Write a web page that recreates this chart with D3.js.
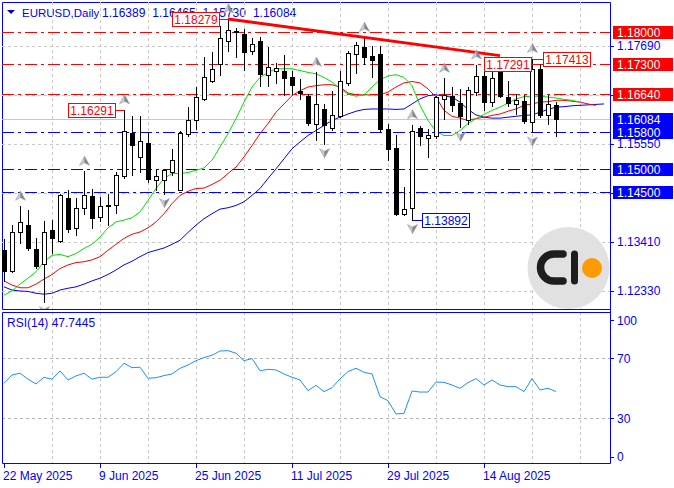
<!DOCTYPE html>
<html>
<head>
<meta charset="utf-8">
<script src="https://cdn.jsdelivr.net/npm/d3@7"></script>
<style>
  body { margin: 0; background: #fff; }
  svg { display: block; font-family: "Liberation Sans", Arial, sans-serif; }
</style>
</head>
<body>
<svg id="chart" width="674" height="488"></svg>
<script>
// daily EURUSD bars, 22 May 2025 .. 27 Aug 2025
var symbol = "EURUSD,Daily";
var lastQuote = ["1.16389", "1.16465", "1.15730", "1.16084"];
var dateLabels = ["22 May 2025", "9 Jun 2025", "25 Jun 2025", "11 Jul 2025", "29 Jul 2025", "14 Aug 2025"];

var open = [1.13224, 1.12773, 1.13623, 1.13783, 1.13238, 1.12911, 1.13674, 1.13420, 1.14372, 1.13718,
            1.14154, 1.14409, 1.13951, 1.14198, 1.14205, 1.14845, 1.15783, 1.15259, 1.15564, 1.14750,
            1.14765, 1.14932, 1.14547, 1.15768, 1.16059, 1.16531, 1.16931, 1.17295, 1.17804, 1.18007,
            1.17949, 1.17571, 1.17804, 1.17055, 1.17135, 1.17149, 1.17004, 1.16699, 1.16604, 1.15972,
            1.16313, 1.15899, 1.16153, 1.16880, 1.17513, 1.17673, 1.17476, 1.17513, 1.15877, 1.15463,
            1.14023, 1.14154, 1.15892, 1.15681, 1.15710, 1.16531, 1.16590, 1.16444, 1.16059, 1.16677,
            1.17040, 1.16459, 1.17128, 1.16568, 1.16422, 1.16495, 1.16022, 1.17186, 1.16168, 1.16389];
var high = [1.13463, 1.13769, 1.14183, 1.14096, 1.13478, 1.13856, 1.13892, 1.14459, 1.14547, 1.14365,
            1.14947, 1.14568, 1.14387, 1.14459, 1.14932, 1.16291, 1.16146, 1.16146, 1.15804, 1.15005,
            1.15005, 1.15426, 1.15819, 1.16364, 1.16786, 1.17440, 1.17549, 1.18131, 1.18279, 1.18073,
            1.18058, 1.17862, 1.17876, 1.17658, 1.17309, 1.17491, 1.17149, 1.16968, 1.16640, 1.17113,
            1.16408, 1.16713, 1.17149, 1.17586, 1.17767, 1.17876, 1.17680, 1.17695, 1.15986, 1.15732,
            1.14605, 1.15964, 1.15940, 1.15877, 1.16604, 1.16982, 1.16786, 1.16749, 1.16786, 1.17273,
            1.17237, 1.17180, 1.17150, 1.16931, 1.16640, 1.16619, 1.17413, 1.17291, 1.16619, 1.16465];
var low = [1.12547, 1.12751, 1.13369, 1.13224, 1.12824, 1.12097, 1.13151, 1.13405, 1.13623, 1.13551,
           1.14023, 1.13711, 1.13856, 1.13769, 1.14045, 1.14801, 1.14874, 1.14932, 1.14714, 1.14532,
           1.14459, 1.14859, 1.14532, 1.15710, 1.15863, 1.16510, 1.16895, 1.17055, 1.17586, 1.17440,
           1.17164, 1.17513, 1.16822, 1.16822, 1.16873, 1.16619, 1.16640, 1.16531, 1.15950, 1.15623,
           1.15550, 1.15841, 1.16132, 1.16837, 1.17098, 1.17295, 1.17004, 1.15819, 1.15186, 1.13987,
           1.14000, 1.13892, 1.15514, 1.15259, 1.15674, 1.16095, 1.16255, 1.15913, 1.15986, 1.16619,
           1.16277, 1.16386, 1.16568, 1.16386, 1.16204, 1.16008, 1.15804, 1.16132, 1.15986, 1.15730];
var close = [1.12773, 1.13623, 1.13841, 1.13274, 1.12882, 1.13623, 1.13478, 1.14438, 1.13696, 1.14154,
             1.14438, 1.13936, 1.14190, 1.14212, 1.14874, 1.15826, 1.15514, 1.15601, 1.14787, 1.14837,
             1.14968, 1.15201, 1.15783, 1.16073, 1.16582, 1.17018, 1.17186, 1.17862, 1.18044, 1.17993,
             1.17549, 1.17731, 1.17077, 1.17237, 1.17208, 1.16989, 1.16844, 1.16662, 1.16008, 1.16408,
             1.15950, 1.16168, 1.16917, 1.17535, 1.17709, 1.17440, 1.17382, 1.15863, 1.15441, 1.14009,
             1.14132, 1.15826, 1.15710, 1.15746, 1.16568, 1.16619, 1.16401, 1.16146, 1.16728, 1.17026,
             1.16459, 1.16989, 1.16590, 1.16444, 1.16510, 1.16037, 1.17186, 1.16182, 1.16408, 1.16084];

// alligator lines (they run a few bars past the last candle)
var lips = [1.1224, 1.1233, 1.1248, 1.1261, 1.1275, 1.1297, 1.1311, 1.1313, 1.1308, 1.1315,
            1.1326, 1.1335, 1.1351, 1.1371, 1.1384, 1.1388, 1.1393, 1.1406, 1.1431, 1.1457,
            1.1479, 1.1490, 1.1490, 1.1492, 1.1497, 1.1502, 1.1519, 1.1548, 1.1577, 1.1610,
            1.1646, 1.1679, 1.1700, 1.1711, 1.1719, 1.1719, 1.1719, 1.1715, 1.1711, 1.1708,
            1.1700, 1.1690, 1.1675, 1.1664, 1.1659, 1.1662, 1.1679, 1.1695, 1.1703, 1.1706,
            1.1700, 1.1682, 1.1639, 1.1606, 1.1582, 1.1573, 1.1573, 1.1584, 1.1599, 1.1610,
            1.1619, 1.1628, 1.1635, 1.1644, 1.1653, 1.1658, 1.1659, 1.1659, 1.1657, 1.1655,
            1.1652, 1.1650, 1.1646];
var teeth = [1.1255, 1.1246, 1.1240, 1.1240, 1.1248, 1.1259, 1.1269, 1.1282, 1.1290, 1.1295,
             1.1297, 1.1301, 1.1308, 1.1322, 1.1335, 1.1348, 1.1357, 1.1362, 1.1371, 1.1384,
             1.1402, 1.1424, 1.1442, 1.1451, 1.1457, 1.1458, 1.1466, 1.1475, 1.1490, 1.1504,
             1.1526, 1.1551, 1.1577, 1.1599, 1.1624, 1.1642, 1.1660, 1.1671, 1.1679, 1.1682,
             1.1684, 1.1684, 1.1679, 1.1666, 1.1662, 1.1662, 1.1662, 1.1662, 1.1668, 1.1679,
             1.1688, 1.1691, 1.1688, 1.1675, 1.1657, 1.1628, 1.1615, 1.1611, 1.1606, 1.1610,
             1.1613, 1.1617, 1.1620, 1.1626, 1.1631, 1.1639, 1.1642, 1.1646, 1.1647, 1.1650,
             1.1650, 1.1648, 1.1646, 1.1642, 1.1639];
var jaw = [1.1242, 1.1235, 1.1233, 1.1232, 1.1228, 1.1226, 1.1228, 1.1235, 1.1239, 1.1242,
           1.1248, 1.1255, 1.1261, 1.1269, 1.1279, 1.1290, 1.1298, 1.1308, 1.1317, 1.1322,
           1.1327, 1.1335, 1.1344, 1.1361, 1.1377, 1.1391, 1.1402, 1.1412, 1.1415, 1.1420,
           1.1428, 1.1442, 1.1457, 1.1479, 1.1500, 1.1522, 1.1544, 1.1559, 1.1573, 1.1584,
           1.1595, 1.1606, 1.1613, 1.1620, 1.1626, 1.1630, 1.1631, 1.1631, 1.1631, 1.1630,
           1.1631, 1.1642, 1.1653, 1.1660, 1.1662, 1.1659, 1.1657, 1.1646, 1.1630, 1.1618,
           1.1613, 1.1611, 1.1611, 1.1613, 1.1615, 1.1617, 1.1618, 1.1624, 1.1630, 1.1635,
           1.1636, 1.1638, 1.1639, 1.1640, 1.1641, 1.1642];

var rsi = [53.2, 58.8, 60.0, 56.0, 52.8, 57.3, 56.0, 61.5, 55.5, 58.2,
           60.0, 56.0, 57.3, 57.3, 61.0, 66.7, 63.7, 64.0, 56.6, 57.0,
           58.4, 59.5, 63.3, 65.5, 68.4, 70.5, 72.0, 74.9, 75.1, 73.4,
           68.4, 69.8, 61.7, 62.6, 62.2, 59.5, 57.3, 55.5, 48.3, 51.9,
           47.7, 50.3, 56.2, 61.1, 63.3, 60.6, 59.5, 44.3, 41.6, 32.7,
           33.1, 48.1, 47.4, 47.4, 54.1, 53.9, 52.1, 49.9, 53.7, 56.4,
           52.1, 55.5, 52.1, 51.0, 51.0, 47.7, 56.4, 48.8, 49.9, 47.7445];

var upFractals = [2, 10, 15, 28, 39, 45, 51, 55, 59, 66];
var downFractals = [5, 20, 40, 51, 57, 66];

var redLevels = [1.18, 1.173, 1.1664];
var blueLevels = [1.158, 1.15, 1.145];
var bid = 1.16084;
var priceTicks = [1.1769, 1.1661, 1.1555, 1.1447, 1.1341, 1.1233];
var rsiTicks = [100, 70, 30, 0];
var rsiLevels = [70, 30];

// swing labels: bar, price, colour, box side
var swingLabels = [
  { bar: 15, price: 1.16291, color: "#ff0000", side: -1 },
  { bar: 28, price: 1.18279, color: "#ff0000", side: -1 },
  { bar: 51, price: 1.13892, color: "#0000ff", side: 1 },
  { bar: 67, price: 1.17291, color: "#ff0000", side: -1 },
  { bar: 66, price: 1.17413, color: "#ff0000", side: 1 }
];
var trendBars = [28, 62];
var trendPrices = [1.18279, 1.17477];

var blue = "#0000ff";
var gridColor = "#c8c8c8";
var svg = d3.select("#chart");

var x = d3.scaleLinear().domain([0, 69]).range([4, 556]);
var y = d3.scaleLinear().domain([1.18, 1.158]).range([31.7, 132.3]);
var ry = d3.scaleLinear().domain([0, 100]).range([462.8, 313.5]);

function px(v) { return Math.round(v) + 0.5; }

var mainTop = 2, mainBottom = 309, rsiTop = 312, rsiBottom = 463, left = 2, right = 610;

var defs = svg.append("defs");
defs.append("clipPath").attr("id", "clip-main")
  .append("rect").attr("x", left).attr("y", mainTop).attr("width", right - left).attr("height", mainBottom - mainTop);
defs.append("clipPath").attr("id", "clip-rsi")
  .append("rect").attr("x", left).attr("y", rsiTop).attr("width", right - left).attr("height", rsiBottom - rsiTop);

var main = svg.append("g").attr("clip-path", "url(#clip-main)");
var sub = svg.append("g").attr("clip-path", "url(#clip-rsi)");

// vertical grid, every 6 bars
var gridBars = d3.range(6, 76, 6);
[[main, mainTop, mainBottom], [sub, rsiTop, rsiBottom]].forEach(function(p) {
  p[0].selectAll(".vgrid").data(gridBars).enter().append("line")
    .attr("x1", d => px(x(d))).attr("x2", d => px(x(d)))
    .attr("y1", p[1]).attr("y2", p[2])
    .attr("stroke", gridColor).attr("stroke-dasharray", "3,3");
});

main.selectAll(".hgrid").data(priceTicks).enter().append("line")
  .attr("x1", left).attr("x2", right)
  .attr("y1", d => px(y(d))).attr("y2", d => px(y(d)))
  .attr("stroke", gridColor).attr("stroke-dasharray", "3,3");

sub.selectAll(".rlevel").data(rsiLevels).enter().append("line")
  .attr("x1", left).attr("x2", right)
  .attr("y1", d => px(ry(d))).attr("y2", d => px(ry(d)))
  .attr("stroke", "#b4b4b4").attr("stroke-dasharray", "3,3");

// bid line
main.append("line")
  .attr("x1", left).attr("x2", right)
  .attr("y1", px(y(bid))).attr("y2", px(y(bid)))
  .attr("stroke", "#c8c8c8");

// horizontal levels
function drawLevels(levels, color) {
  main.selectAll(null).data(levels).enter().append("line")
    .attr("x1", left).attr("x2", right)
    .attr("y1", d => px(y(d))).attr("y2", d => px(y(d)))
    .attr("stroke", color).attr("stroke-dasharray", "12,4,3,4");
}
drawLevels(redLevels, "#ff0000");
drawLevels(blueLevels, blue);

// logo
var logo = main.append("g");
logo.append("circle").attr("cx", 568.5).attr("cy", 268).attr("r", 41).attr("fill", "#e1e1e1");
logo.append("path")
  .attr("d", "M563,254 H554 A13.5,13.5 0 0 0 554,281 H563")
  .attr("fill", "none").attr("stroke", "#1e1e1e").attr("stroke-width", 7.5).attr("stroke-linecap", "round");
logo.append("line").attr("x1", 574.5).attr("x2", 574.5).attr("y1", 254).attr("y2", 281)
  .attr("stroke", "#1e1e1e").attr("stroke-width", 7).attr("stroke-linecap", "round");
logo.append("circle").attr("cx", 592).attr("cy", 268).attr("r", 10).attr("fill", "#ff9a00");

// alligator
var line = d3.line().x((d, i) => x(i)).y(d => y(d));
[[jaw, blue], [teeth, "#ff0000"], [lips, "#00e000"]].forEach(function(s) {
  main.append("path").datum(s[0])
    .attr("d", line)
    .attr("fill", "none").attr("stroke", s[1]).attr("stroke-width", 1);
});

// candles
var bars = main.selectAll(".candle").data(d3.range(open.length)).enter().append("g").classed("candle", true);
bars.append("line")
  .attr("x1", i => px(x(i))).attr("x2", i => px(x(i)))
  .attr("y1", i => Math.round(y(high[i]))).attr("y2", i => Math.round(y(low[i])) + 1)
  .attr("stroke", "#000");
bars.append("rect")
  .attr("x", i => Math.round(x(i)) - 1.5)
  .attr("width", 4)
  .attr("y", i => Math.round(y(Math.max(open[i], close[i]))) + 0.5)
  .attr("height", i => Math.round(y(Math.min(open[i], close[i]))) - Math.round(y(Math.max(open[i], close[i]))))
  .attr("fill", i => close[i] >= open[i] ? "#fff" : "#000")
  .attr("stroke", "#000");

// trend line
main.append("line")
  .attr("x1", x(trendBars[0])).attr("y1", y(trendPrices[0]))
  .attr("x2", x(trendBars[1])).attr("y2", y(trendPrices[1]))
  .attr("stroke", "#ff0000").attr("stroke-width", 3);

// fractal arrows
function arrow(g, cx, cy, dir) {
  var s = dir;
  g.append("path")
    .attr("d", "M" + cx + "," + (cy - 5 * s) + " L" + (cx - 5) + "," + (cy + 4 * s) + " L" + cx + "," + (cy + 1.5 * s) + " Z")
    .attr("fill", "#c9ccd3").attr("stroke", "#9a9ea6").attr("stroke-width", 0.6);
  g.append("path")
    .attr("d", "M" + cx + "," + (cy - 5 * s) + " L" + (cx + 5) + "," + (cy + 4 * s) + " L" + cx + "," + (cy + 1.5 * s) + " Z")
    .attr("fill", "#7f848d").attr("stroke", "#9a9ea6").attr("stroke-width", 0.6);
}
upFractals.forEach(function(i) { arrow(main, x(i) + 0.5, y(high[i]) - 10, 1); });
downFractals.forEach(function(i) { arrow(main, x(i) + 0.5, y(low[i]) + 9, -1); });

// swing labels
var boxW = 47, boxH = 14;
swingLabels.forEach(function(d) {
  var bx = x(d.bar) + 0.5;
  var by = Math.round(y(d.price)) + 0.5;
  var x0 = d.side < 0 ? Math.round(bx - 10 - boxW) + 0.5 : Math.round(bx + 10) + 0.5;
  var edge = d.side < 0 ? x0 + boxW : x0;
  main.append("line").attr("x1", edge).attr("x2", bx).attr("y1", by).attr("y2", by)
    .attr("stroke", d.color);
  main.append("rect").attr("x", x0).attr("y", by - 7).attr("width", boxW).attr("height", boxH)
    .attr("fill", "#fff").attr("stroke", d.color);
  main.append("text").attr("x", x0 + boxW / 2).attr("y", by + 4.5)
    .attr("text-anchor", "middle").attr("font-size", "12px").attr("fill", d.color)
    .text(d.price.toFixed(5));
});

// RSI line
var rline = d3.line().x((d, i) => x(i)).y(d => ry(d));
sub.append("path").datum(rsi)
  .attr("d", rline).attr("fill", "none").attr("stroke", "#1e90ff").attr("stroke-width", 1);

// frames
svg.append("path")
  .attr("d", "M" + (left + 0.5) + "," + (mainBottom + 0.5) + " V" + (mainTop + 0.5) + " H" + (right + 0.5) + " V" + (rsiBottom + 0.5) + " H" + (left + 0.5) + " V" + (rsiTop + 0.5) + " H" + (right + 0.5) + " M" + (left + 0.5) + "," + (mainBottom + 0.5) + " H" + (right + 0.5))
  .attr("fill", "none").attr("stroke", blue);

// price axis
var axisG = svg.append("g").attr("font-size", "12px");
axisG.selectAll(".ptick").data(priceTicks).enter().append("line")
  .attr("x1", right).attr("x2", right + 4)
  .attr("y1", d => px(y(d))).attr("y2", d => px(y(d))).attr("stroke", blue);
axisG.selectAll(".plab").data(priceTicks).enter().append("text")
  .attr("x", 617).attr("y", d => y(d) + 4.5)
  .attr("fill", blue).text(d => d.toFixed(5));

function levelTag(v, color) {
  var cy = Math.round(y(v));
  axisG.append("rect").attr("x", 613).attr("y", cy - 6).attr("width", 60).attr("height", 13).attr("fill", color);
  axisG.append("text").attr("x", 617).attr("y", cy + 5).attr("fill", "#fff").text(v.toFixed(5));
}
redLevels.forEach(v => levelTag(v, "#ff0000"));
blueLevels.forEach(v => levelTag(v, blue));
levelTag(bid, blue);

// rsi axis
axisG.selectAll(".rlab").data(rsiTicks).enter().append("text")
  .attr("x", 617)
  .attr("y", d => Math.min(Math.max(ry(d), 320), 456.5) + 4.5)
  .attr("fill", blue).text(d => d);
axisG.selectAll(".rtick").data(rsiTicks).enter().append("line")
  .attr("x1", right).attr("x2", right + 4)
  .attr("y1", d => px(Math.min(Math.max(ry(d), 320), 456.5))).attr("y2", d => px(Math.min(Math.max(ry(d), 320), 456.5)))
  .attr("stroke", blue);

// time axis
var timeG = svg.append("g").attr("font-size", "12px");
timeG.selectAll("line").data(dateLabels).enter().append("line")
  .attr("x1", (d, i) => px(x(i * 12))).attr("x2", (d, i) => px(x(i * 12)))
  .attr("y1", rsiBottom).attr("y2", rsiBottom + 5).attr("stroke", blue);
timeG.selectAll("text").data(dateLabels).enter().append("text")
  .attr("x", (d, i) => x(i * 12) - 1).attr("y", 480)
  .attr("fill", blue).text(d => d);

// header
svg.append("path").attr("d", "M7,10 H15 L11,14 Z").attr("fill", "#0000c8");
var head = svg.append("text").attr("y", 17).attr("fill", blue).attr("font-size", "12px");
head.append("tspan").attr("x", 22).attr("font-size", "11.5px").text(symbol);
lastQuote.forEach(function(q, k) {
  head.append("tspan").attr("x", 102 + k * 50.3).text(q);
});
// keep swing box over header
svg.node().appendChild(main.node());
svg.node().appendChild(axisG.node());

// rsi caption
svg.append("text").attr("x", 7).attr("y", 327).attr("font-size", "12px").attr("fill", blue)
  .text("RSI(14) " + rsi[rsi.length - 1]);
</script>
</body>
</html>
